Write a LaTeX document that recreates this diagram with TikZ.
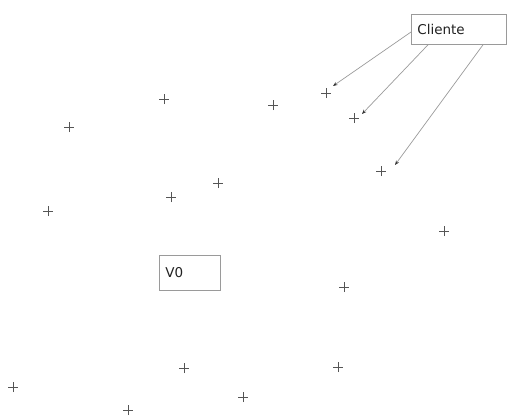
\documentclass[tikz,border=0pt]{standalone}
\usepackage{fontspec}
\setmainfont{DejaVu Sans}
\usetikzlibrary{arrows.meta}
\definecolor{boxgray}{HTML}{9A9A9A}
\definecolor{crossgray}{HTML}{555555}
\definecolor{txtgray}{HTML}{222222}
\definecolor{tipgray}{HTML}{333333}
\tikzset{
  lbl/.style={draw=boxgray, line width=0.8pt, fill=white, anchor=north west, inner sep=0pt,
    text=txtgray, font=\fontsize{13.5}{15}\selectfont, align=left},
  crossmark/.style={draw=crossgray, line width=0.8pt},
  conn/.style={draw=boxgray, line width=0.7pt, -{Stealth[length=4.5pt,width=3.5pt,color=tipgray]}},
}
\newcommand{\crossat}[1]{\draw[crossmark] ([xshift=-5pt]#1) -- ([xshift=5pt]#1) ([yshift=-5pt]#1) -- ([yshift=5pt]#1);}
\begin{document}
\begin{tikzpicture}[x=1pt,y=-1pt]
\useasboundingbox (0,0) rectangle (509,416);
% boxes
\node[lbl, minimum width=95pt, minimum height=30pt, text width=83pt, inner xsep=6pt] (cliente) at (411,14) {Cliente};
\node[lbl, minimum width=61pt, minimum height=35pt, text width=49pt, inner xsep=6pt] (v0) at (159,255) {V0};
% crosses
\foreach \n/\x/\y in {p1/164/99, p2/69/127, p3/273/105, p4/326/93, p5/354/118, p6/381/171,
  p7/218/183, p8/171/197, p9/48/211, p10/444/231, p11/344/287, p12/184/368, p13/338/367,
  p14/13/387, p15/243/397, p16/128/410}{
  \coordinate (\n) at (\x,\y);
  \crossat{\n}
}
% arrow ends
\coordinate (t4) at (333,86);
\coordinate (t5) at (362,114);
\coordinate (t6) at (395,165);
\coordinate (s4) at ([yshift=-18pt]cliente.north west);
\coordinate (s5) at ([xshift=17pt]cliente.south west);
\coordinate (s6) at ([xshift=72pt]cliente.south west);
\draw[conn] (s4) -- (t4);
\draw[conn] (s5) -- (t5);
\draw[conn] (s6) -- (t6);
\end{tikzpicture}
\end{document}
